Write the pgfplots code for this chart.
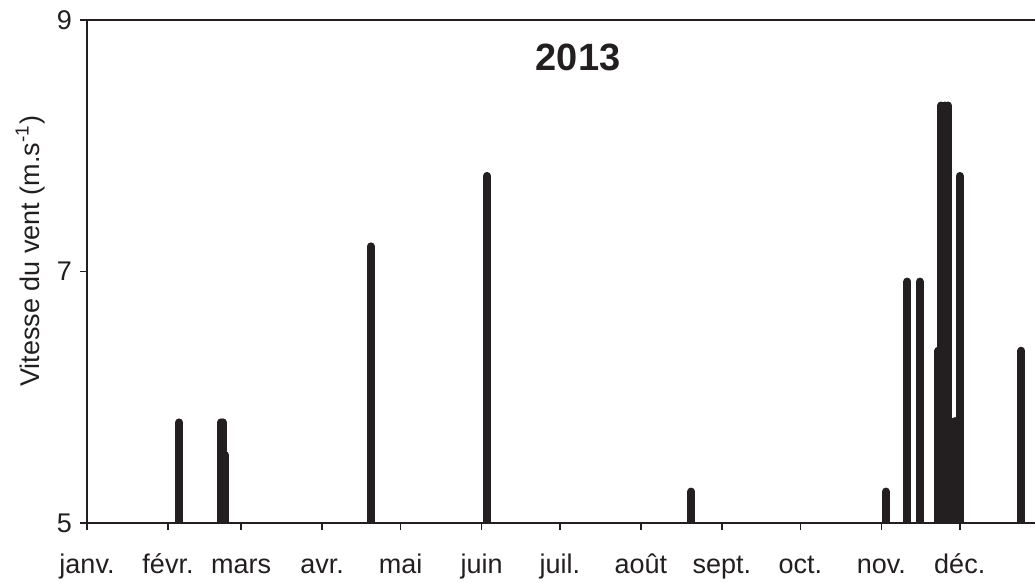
\documentclass[border=0pt]{standalone}
\usepackage{pgfplots}
\pgfplotsset{compat=1.18}
\usepackage{fontspec}
\setmainfont{Liberation Sans}
\definecolor{ink}{HTML}{231F20}
\begin{document}
\begin{tikzpicture}
\begin{axis}[
  scale only axis, width=474pt, height=251.5pt,
  xmin=0, xmax=362.8, ymin=5, ymax=9,
  axis x line*=box, axis y line*=left,
  xtick pos=bottom, ytick pos=left, tick align=outside,
  major tick length=3.5pt,
  axis line style={ink, line width=0.8pt},
  every tick/.style={ink, line width=0.8pt},
  xtick={0,31,59,90,120,151,181,212,243,273,304,334},
  xticklabels={janv.,févr.,mars,avr.,mai,juin,juil.,août,sept.,oct.,nov.,déc.},
  ytick={5,7,9},
  /pgf/number format/assume math mode=true,
  ticklabel style={font=\fontsize{13.5}{15}\selectfont, text=ink},
  xticklabel style={anchor=base, yshift=-22pt},
  yticklabel style={xshift=-0.5pt},
  ylabel={Vitesse du vent (m.s\textsuperscript{-1})},
  every axis y label/.style={at={(axis description cs:-0.06,0.54)}, rotate=90, anchor=center, font=\fontsize{13.5}{15}\selectfont, text=ink},
]
\addplot[ycomb, ink, line width=4pt, line cap=round] coordinates {
  (35.3,5.80) (51.3,5.80) (52.0,5.80) (53.0,5.54)
  (108.6,7.20) (153.1,7.76) (231.3,5.25) (305.7,5.25)
  (314.0,6.92) (318.7,6.92) (325.8,6.37)
  (326.9,8.32) (328.2,8.32) (329.5,8.32)
  (330.9,5.26) (332.1,5.81) (334.0,7.76) (357.6,6.37)
};
\node[font=\fontsize{19}{22}\selectfont\bfseries, text=ink] at (axis description cs:0.518,0.926) {2013};
\coordinate (bl) at (rel axis cs:0,0);
\coordinate (tr) at (rel axis cs:1,1);
\end{axis}
\pgfresetboundingbox
\path ([shift={(-43.5pt,-30pt)}]bl) rectangle ([shift={(0pt,10pt)}]tr);
\end{tikzpicture}
\end{document}
